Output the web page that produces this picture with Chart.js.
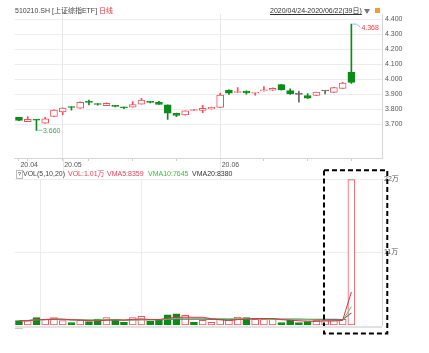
<!DOCTYPE html>
<html><head><meta charset="utf-8">
<script src="https://cdn.jsdelivr.net/npm/chart.js@4.4.0/dist/chart.umd.min.js"></script>
<style>
html,body{margin:0;padding:0;background:#fff;width:429px;height:353px;overflow:hidden;font-family:"Liberation Sans","Noto Sans CJK SC",sans-serif;}
.t{position:absolute;font-size:7px;line-height:8px;white-space:nowrap;color:#444;}
canvas{position:absolute;left:0;}
</style></head><body>
<canvas id="p" width="429" height="170" style="top:0px;width:429px;height:170px"></canvas>
<canvas id="v" width="429" height="187" style="top:166px;width:429px;height:187px"></canvas>
<div class="t" style="left:15px;top:7px">510210.SH [上证综指ETF] <span style="color:#e8323c">日线</span></div>
<div class="t" style="left:270px;top:7px;text-decoration:underline;color:#333;font-size:7px">2020/04/24-2020/06/22(39日)</div>
<div style="position:absolute;left:364px;top:9px;width:0;height:0;border-left:3px solid transparent;border-right:3px solid transparent;border-top:5px solid #777"></div>
<div style="position:absolute;left:375px;top:8px;width:5px;height:5px;background:#f0a030"></div>
<div class="t" style="left:16px;top:170px;width:5px;height:7px;line-height:7px;border:1px solid #bbb;font-size:6px;text-align:center;box-sizing:content-box">?</div>
<div class="t" style="left:23px;top:170px">VOL(5,10,20)</div>
<div class="t" style="left:68px;top:170px;color:#e8405a">VOL:1.01万</div>
<div class="t" style="left:107px;top:170px;color:#e8405a">VMA5:8359</div>
<div class="t" style="left:148px;top:170px;color:#3cb93c">VMA10:7645</div>
<div class="t" style="left:192px;top:170px;color:#333">VMA20:8380</div>
<div style="position:absolute;left:15px;top:326px;width:367px;height:1.5px;background:#e2e2e2"></div>
<div style="position:absolute;left:15px;top:327.5px;width:8px;height:1.5px;background:#c8c8c8"></div>
<script>
// ---- data ----
const dates = ['04-24','04-27','04-28','04-29','04-30','05-06','05-07','05-08','05-11','05-12','05-13','05-14','05-15','05-18','05-19','05-20','05-21','05-22','05-25','05-26','05-27','05-28','05-29','06-01','06-02','06-03','06-04','06-05','06-08','06-09','06-10','06-11','06-12','06-15','06-16','06-17','06-18','06-19','06-22'];
const open  = [3.746,3.718,3.730,3.707,3.752,3.782,3.815,3.807,3.848,3.834,3.825,3.824,3.813,3.815,3.835,3.848,3.847,3.829,3.773,3.762,3.792,3.793,3.802,3.813,3.928,3.912,3.922,3.907,3.922,3.927,3.964,3.924,3.900,3.891,3.892,3.922,3.913,3.940,4.046];
const high  = [3.747,3.752,3.731,3.747,3.796,3.810,3.818,3.849,3.862,3.838,3.843,3.826,3.814,3.851,3.873,3.852,3.853,3.830,3.774,3.790,3.800,3.827,3.814,3.907,3.930,3.945,3.923,3.913,3.951,3.943,3.966,3.937,3.922,3.904,3.915,3.924,3.946,3.980,4.368];
const low   = [3.725,3.717,3.660,3.706,3.751,3.765,3.795,3.806,3.830,3.828,3.824,3.816,3.805,3.814,3.834,3.842,3.832,3.733,3.751,3.761,3.791,3.777,3.801,3.812,3.900,3.911,3.901,3.895,3.921,3.926,3.928,3.900,3.847,3.873,3.891,3.902,3.912,3.939,3.972];
const close = [3.726,3.733,3.728,3.737,3.795,3.808,3.812,3.847,3.846,3.832,3.840,3.819,3.809,3.831,3.862,3.846,3.833,3.775,3.760,3.789,3.794,3.807,3.813,3.895,3.908,3.915,3.910,3.912,3.929,3.940,3.929,3.902,3.900,3.874,3.914,3.922,3.944,3.974,3.980];
const volume = [6500,6500,11000,8600,11000,6500,3500,7100,5000,9100,11000,7100,4100,11000,13200,5600,7100,15200,16700,14700,4500,7100,4100,8600,8600,12100,11000,8600,8600,8600,3500,7600,3500,5000,7100,7100,7100,8600,219000];
const volUp  = [0,1,0,1,1,1,0,1,0,0,1,0,0,1,1,0,0,0,0,1,0,1,1,1,1,1,0,1,1,1,0,0,0,0,1,1,1,1,1];
const monthTickIdx = [0,5,23];
const monthTickLabels = ['20.04','20.05','20.06'];
const weekTickIdx = [1,8,13,18,28,33,38];
const priceTicks = [3.7,3.8,3.9,4.0,4.1,4.2,4.3,4.4];
const volTicks = [110000,220000];
const volTickLabels = ['11万','22万'];

const RED='#f0505c', GREEN='#0b8c1a', GREY='#666';
const idx = dates.map((_,i)=>i);
const cColor = idx.map(i=> close[i]>open[i]?RED:(close[i]<open[i]?GREEN:GREY));
const cFill = idx.map(i=> close[i]>open[i]?'#fff':cColor[i]);
function ma(arr,n){return arr.map((_,i)=>{const s=arr.slice(Math.max(0,i-n+1),i+1);return s.reduce((a,b)=>a+b,0)/s.length;});}

Chart.defaults.font.family='"Liberation Sans","Noto Sans CJK SC",sans-serif';
Chart.defaults.font.size=7;
Chart.defaults.color='#555';

const xMin=-0.5, xMax=41.5;
const allXTicks=[...monthTickIdx,...weekTickIdx].sort((a,b)=>a-b);

const annot={id:'annot',afterDatasetsDraw(chart){
  const c=chart.ctx, xs=chart.scales.x, ys=chart.scales.y;
  let hi=0, lo=0; high.forEach((v,i)=>{if(v>high[hi])hi=i;}); low.forEach((v,i)=>{if(v<low[lo])lo=i;});
  c.save(); c.lineWidth=1; c.strokeStyle='#8cc4e0'; c.font='7px "Liberation Sans",sans-serif'; c.textBaseline='middle';
  let xh=xs.getPixelForValue(hi), yh=ys.getPixelForValue(high[hi]);
  c.beginPath(); c.moveTo(xh+1,yh); c.lineTo(xh+5,yh); c.lineTo(xh+9,yh+3); c.stroke();
  c.fillStyle='#ee3b3b'; c.fillText(high[hi].toFixed(3),xh+10,yh+3.5);
  let xl=xs.getPixelForValue(lo), yl=ys.getPixelForValue(low[lo]);
  c.beginPath(); c.moveTo(xl+1,yl); c.lineTo(xl+6,yl); c.stroke();
  c.fillStyle='#3c9c5c'; c.fillText(low[lo].toFixed(3),xl+6.5,yl+0.5);
  c.strokeStyle='#e6e6e6';
  monthTickIdx.slice(1).forEach(v=>{const x=Math.round(xs.getPixelForValue(v))+0.5;c.beginPath();c.moveTo(x,chart.chartArea.bottom+1);c.lineTo(x,chart.height);c.stroke();});
  c.restore();
}};

new Chart(document.getElementById('p'),{
  type:'bar',
  data:{datasets:[
    {data:idx.map(i=>({x:i,y:[open[i],close[i]]})),backgroundColor:cFill,borderColor:cColor,borderWidth:1,borderSkipped:false,barThickness:7,minBarLength:1,grouped:false},
    {data:idx.map(i=>({x:i,y:[low[i],high[i]]})),backgroundColor:cColor,borderWidth:0,barThickness:1,grouped:false}
  ]},
  options:{animation:false,responsive:false,devicePixelRatio:1,
    layout:{padding:{left:14.6,top:14,right:0,bottom:0}},
    plugins:{legend:{display:false},tooltip:{enabled:false}},
    scales:{
      x:{type:'linear',min:xMin,max:xMax,offset:false,
        afterBuildTicks:s=>{s.ticks=allXTicks.map(v=>({value:v}));},
        afterFit:s=>{s.height=12;},
        ticks:{autoSkip:false,maxRotation:0,align:'start',padding:0,labelOffset:1.5,color:'#555',
          callback:v=>{const k=monthTickIdx.indexOf(v);return k>=0?monthTickLabels[k]:'';}},
        grid:{color:c=>(c.tick&&monthTickIdx.indexOf(c.tick.value)>0)?'#e6e6e6':'rgba(0,0,0,0)',tickColor:'#cfcfcf',tickLength:3,offset:false},
        border:{display:true,color:'#d6d6d6'}},
      y:{position:'right',min:3.4753,max:4.4353,
        afterBuildTicks:s=>{s.ticks=priceTicks.map(v=>({value:v}));},
        afterFit:s=>{s.width=47;},
        ticks:{padding:3,color:'#555',callback:v=>Number(v).toFixed(3)},
        grid:{color:'#ececec',drawTicks:false},
        border:{display:true,color:'#d6d6d6'}}
    }},
  plugins:[annot]
});

const box={id:'box',
  beforeDatasetsDraw(chart){
    const c=chart.ctx, xs=chart.scales.x; c.save(); c.strokeStyle='#ececec'; c.lineWidth=1;
    monthTickIdx.slice(1).forEach(v=>{const x=Math.round(xs.getPixelForValue(v))+0.5;c.beginPath();c.moveTo(x,0);c.lineTo(x,chart.chartArea.top);c.stroke();});
    c.restore();
  },
  afterDraw(chart){
    const c=chart.ctx; c.save(); c.setLineDash([5,3]); c.lineWidth=2; c.strokeStyle='#000';
    c.strokeRect(324,4.2,63.3,163.3); c.restore();
  }};

new Chart(document.getElementById('v'),{
  type:'bar',
  data:{datasets:[
    {type:'line',data:idx.map(i=>({x:i,y:ma(volume,5)[i]})),borderColor:'#e0304c',borderWidth:1,pointRadius:0,tension:0},
    {type:'line',data:idx.map(i=>({x:i,y:ma(volume,10)[i]})),borderColor:'#5ccc5c',borderWidth:1,pointRadius:0,tension:0},
    {type:'line',data:idx.map(i=>({x:i,y:ma(volume,20)[i]})),borderColor:'#707070',borderWidth:1.2,pointRadius:0,tension:0},
    {data:idx.map(i=>({x:i,y:volume[i]})),backgroundColor:idx.map(i=>volUp[i]?'#fff':GREEN),borderColor:idx.map(i=>volUp[i]?RED:GREEN),borderWidth:1,borderSkipped:false,barThickness:7,grouped:false}
  ]},
  options:{animation:false,responsive:false,devicePixelRatio:1,
    layout:{padding:{left:14.6,top:13,right:0,bottom:0}},
    plugins:{legend:{display:false},tooltip:{enabled:false}},
    scales:{
      x:{type:'linear',min:xMin,max:xMax,offset:false,
        afterBuildTicks:s=>{s.ticks=monthTickIdx.map(v=>({value:v}));},
        afterFit:s=>{s.height=28;},
        ticks:{display:true,callback:()=>''},
        grid:{color:c=>(c.tick&&monthTickIdx.indexOf(c.tick.value)>0)?'#ececec':'rgba(0,0,0,0)',drawTicks:false},
        border:{display:false}},
      y:{position:'right',min:0,max:220000,
        afterBuildTicks:s=>{s.ticks=volTicks.map(v=>({value:v}));},
        afterFit:s=>{s.width=47;},
        ticks:{padding:2,color:'#555',callback:v=>{const k=volTicks.indexOf(v);return k>=0?volTickLabels[k]:'';}},
        grid:{color:'#ececec',drawTicks:false},
        border:{display:true,color:'#d6d6d6'}}
    }},
  plugins:[box]
});
</script>
</body></html>
